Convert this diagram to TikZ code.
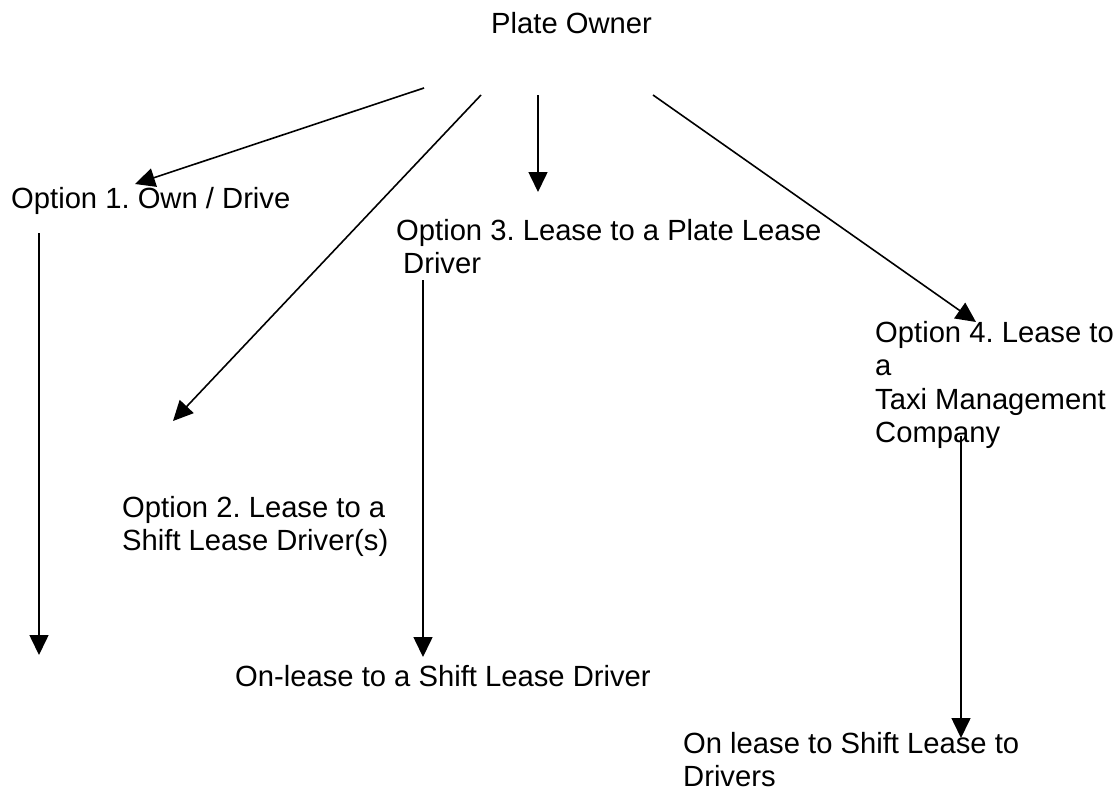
\documentclass[tikz,border=0pt]{standalone}
\usepackage{fontspec}
\setmainfont{Liberation Sans}
\usetikzlibrary{arrows.meta}
\frenchspacing
\newcommand{\fl}{\rule{0pt}{23pt}}
\begin{document}
\begin{tikzpicture}[x=1pt,y=-1pt,
  lbl/.style={anchor=north west, inner sep=0pt, align=left,
    font=\fontsize{29.2}{33.5}\selectfont},
  conn/.style={line width=1.6pt, -{Triangle[length=20pt,width=19pt]}}]
\useasboundingbox (0,0) rectangle (1119,790);
% labels (top = first baseline - 23)
\node[lbl] (owner) at (491,10) {\fl Plate Owner};
\node[lbl] (opt1) at (11,185) {\fl Option 1. Own / Drive};
\node[lbl] (opt3) at (396,217) {\fl Option 3. Lease to a Plate Lease\\\hspace*{7pt}Driver};
\node[lbl] (opt4) at (875,319) {\fl Option 4. Lease to\\a\\Taxi Management\\Company};
\node[lbl] (opt2) at (122,494) {\fl Option 2. Lease to a\\Shift Lease Driver(s)};
\node[lbl] (onl3) at (235,663) {\fl On-lease to a Shift Lease Driver};
\node[lbl] (onl4) at (683,730) {\fl On lease to Shift Lease to\\Drivers};
% connector end points
\coordinate (s1) at (424,88);
\coordinate (t1) at (135,184);
\coordinate (s2) at (481,95);
\coordinate (t2) at (173,421);
\coordinate (s3) at (538,95);
\coordinate (t3) at (538,192);
\coordinate (s4) at (653,95);
\coordinate (t4) at (976,322);
\coordinate (s5) at (39,233);
\coordinate (t5) at (39,655);
\coordinate (s6) at (423,280);
\coordinate (t6) at (423,657);
\coordinate (s7) at (961,436);
\coordinate (t7) at (961,738);
\draw[conn] (s1) -- (t1);
\draw[conn] (s2) -- (t2);
\draw[conn] (s3) -- (t3);
\draw[conn] (s4) -- (t4);
\draw[conn] (s5) -- (t5);
\draw[conn] (s6) -- (t6);
\draw[conn] (s7) -- (t7);
\end{tikzpicture}
\end{document}
